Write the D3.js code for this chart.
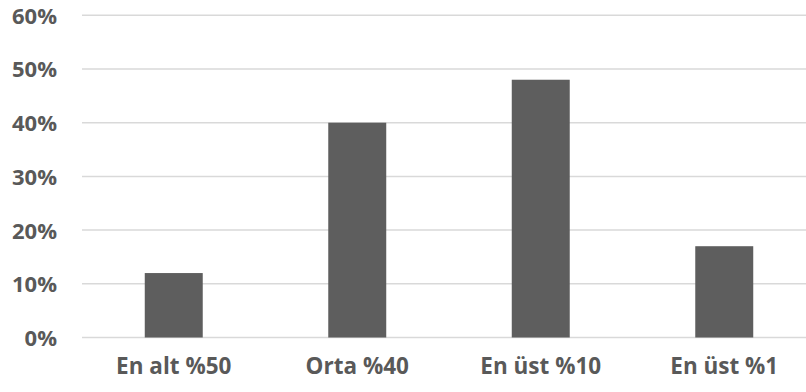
<!DOCTYPE html>
<html><head><meta charset="utf-8">
<script src="https://cdn.jsdelivr.net/npm/d3@7"></script>
<style>html,body{margin:0;padding:0;background:#fff;}svg{display:block;}</style>
</head><body>
<svg id="c" width="806" height="392"></svg>
<script>
const categories = ["En alt %50", "Orta %40", "En üst %10", "En üst %1"];
const values = [12, 40, 48, 17];
const yTicks = [0, 10, 20, 30, 40, 50, 60];

const svg = d3.select("#c");
const font = "'Open Sans', sans-serif";
const textColor = "#595959";

const x = d3.scaleBand().domain(categories).range([82, 816]).paddingInner(0.684).paddingOuter(0.342);
const y = d3.scaleLinear().domain([0, 60]).range([337.5, 15.3]);

// gridlines
svg.append("g").selectAll("line").data(yTicks).join("line")
  .attr("x1", 82).attr("x2", 806)
  .attr("y1", d => y(d)).attr("y2", d => y(d))
  .attr("stroke", "#d9d9d9").attr("stroke-width", 1.5);

// y axis
const yAxis = d3.axisLeft(y).tickValues(yTicks).tickFormat(d => d + "%").tickSize(0).tickPadding(0);
const ya = svg.append("g").attr("transform", "translate(57,0)").call(yAxis);
ya.select(".domain").remove();
ya.selectAll("text").attr("fill", textColor).attr("font-family", font)
  .attr("font-weight", "bold").attr("font-size", 22).attr("dy", "0.36em");

// bars
svg.append("g").selectAll("rect").data(values).join("rect")
  .attr("x", (d, i) => x(categories[i]))
  .attr("width", x.bandwidth())
  .attr("y", d => y(d))
  .attr("height", d => y(0) - y(d))
  .attr("fill", "#5e5e5e");

// x axis
const xAxis = d3.axisBottom(x).tickSize(0).tickPadding(0);
const xa = svg.append("g").attr("transform", "translate(0,358)").call(xAxis);
xa.select(".domain").remove();
xa.selectAll("text").attr("fill", textColor).attr("font-family", font)
  .attr("font-weight", "bold").attr("font-size", 22.5).attr("dy", "0.72em");
</script>
</body></html>
